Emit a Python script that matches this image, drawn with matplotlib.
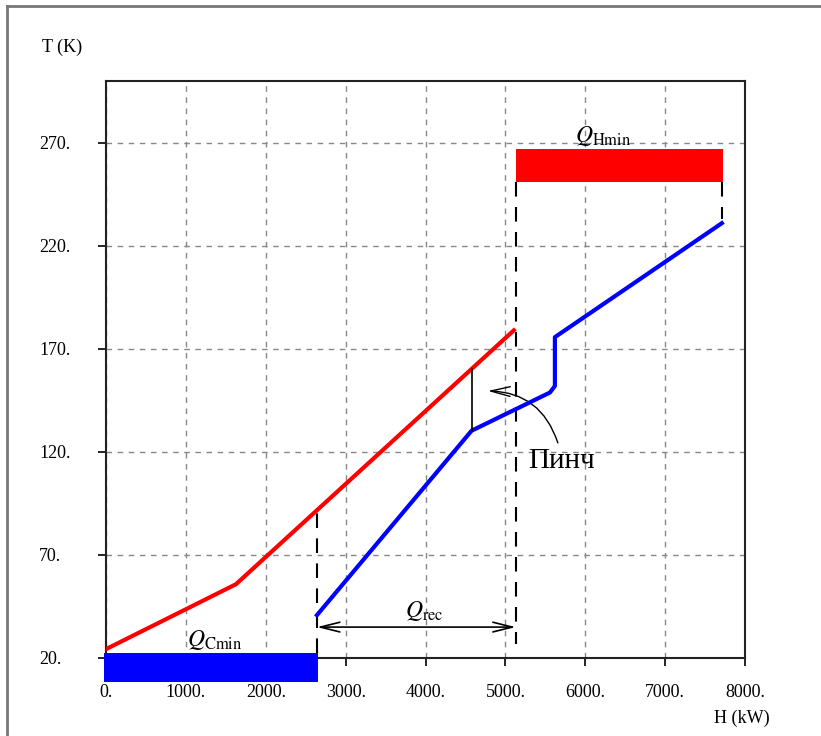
import matplotlib
matplotlib.use("Agg")
import matplotlib.pyplot as plt
from matplotlib.lines import Line2D

plt.rcParams['font.family'] = ['Liberation Serif', 'DejaVu Serif']
plt.rcParams['mathtext.fontset'] = 'stix'

# hot composite curve (H kW, T K)
hot_H = [0, 1627, 5106]
hot_T = [24.3, 55.8, 179.0]

# cold composite curve
cold_H = [2641, 4577, 5557, 5620, 5620, 7710]
cold_T = [40.8, 130.3, 148.8, 152.0, 175.7, 231.0]

# utility bars: (H start, H end, T low, T high)
q_hmin = (5130, 7730, 251.0, 267.0)
q_cmin = (-20, 2660, 8.4, 22.5)

pinch_H = 4577
pinch_T_cold = 130.3
pinch_T_hot = 160.2

q_rec_T = 35.0
q_rec_H = (2641, 5130)

x_ticks = [0, 1000, 2000, 3000, 4000, 5000, 6000, 7000, 8000]
y_ticks = [20, 70, 120, 170, 220, 270]

fig = plt.figure(figsize=(8.21, 7.36), dpi=100)
ax = fig.add_axes([106 / 821, 78 / 736, 639 / 821, 577 / 736])

ax.set_xlim(0, 8000)
ax.set_ylim(20, 300)
ax.set_xticks(x_ticks)
ax.set_yticks(y_ticks)
ax.set_xticklabels([f"{v}." for v in x_ticks])
ax.set_yticklabels([f"{v}." for v in y_ticks])
ax.tick_params(direction='out', length=6, width=1.2, labelsize=13)
ax.xaxis.set_tick_params(pad=13)
for lbl in ax.get_yticklabels():
    lbl.set_horizontalalignment('left')
ax.yaxis.set_tick_params(pad=42)
for s in ax.spines.values():
    s.set_linewidth(1.5)
    s.set_color('#222222')
ax.grid(True, color='#888888', linestyle=(0, (4, 4)), linewidth=1)

# utility bars
ax.fill_between([q_hmin[0], q_hmin[1]], q_hmin[2], q_hmin[3], color='red', lw=0, zorder=3)
ax.fill_between([q_cmin[0], q_cmin[1]], q_cmin[2], q_cmin[3], color='blue', lw=0,
                zorder=3, clip_on=False)

# dashed guides
dash = (0, (7, 5))
ax.plot([2641, 2641], [22.5, 92], color='black', ls=dash, lw=1.5, zorder=2)
ax.plot([5130, 5130], [251, 27], color='black', ls=dash, lw=1.5, zorder=2)
ax.plot([7710, 7710], [251, 233], color='black', ls=dash, lw=1.5, zorder=2)

# composite curves
ax.plot(hot_H, hot_T, color='red', lw=3, zorder=4)
ax.plot(cold_H, cold_T, color='blue', lw=3, zorder=4)

# pinch line
ax.plot([pinch_H, pinch_H], [pinch_T_cold, pinch_T_hot], color='black', lw=1.2, zorder=5)

# Q_rec arrow
ax.annotate('', xy=(q_rec_H[1], q_rec_T), xytext=(q_rec_H[0], q_rec_T),
            arrowprops=dict(arrowstyle='<->,head_length=1.4,head_width=0.35',
                            color='black', lw=1.2, shrinkA=0, shrinkB=0))

ax.text(3990, 37, r'$Q_{\mathrm{rec}}$', fontsize=17, ha='center', va='bottom')
ax.text(1360, 22.8, r'$Q_{\mathrm{Cmin}}$', fontsize=17, ha='center', va='bottom')
ax.text(6230, 267.5, r'$Q_{\mathrm{Hmin}}$', fontsize=17, ha='center', va='bottom')

# pinch label and arrow
ax.text(5707, 115.5, 'Пинч', fontsize=21, ha='center', va='center')
ax.annotate('', xy=(4781, 149.6), xytext=(5657, 124.4),
            arrowprops=dict(arrowstyle='->,head_length=1.4,head_width=0.35',
                            color='black', lw=1.0, shrinkA=0, shrinkB=0,
                            connectionstyle='arc3,rad=0.35'))

fig.text(62 / 821, 1 - 47 / 736, 'T (K)', fontsize=13, ha='center', va='center')
fig.text(742 / 821, 1 - 718 / 736, 'H (kW)', fontsize=13, ha='center', va='center')

# outer frame (top and left edges)
fig.add_artist(Line2D([7 / 821, 1], [1 - 6 / 736, 1 - 6 / 736], transform=fig.transFigure,
                      color='#777777', lw=2))
fig.add_artist(Line2D([7 / 821, 7 / 821], [0, 1 - 6 / 736], transform=fig.transFigure,
                      color='#777777', lw=2))

fig.savefig('out.png', dpi=100)
